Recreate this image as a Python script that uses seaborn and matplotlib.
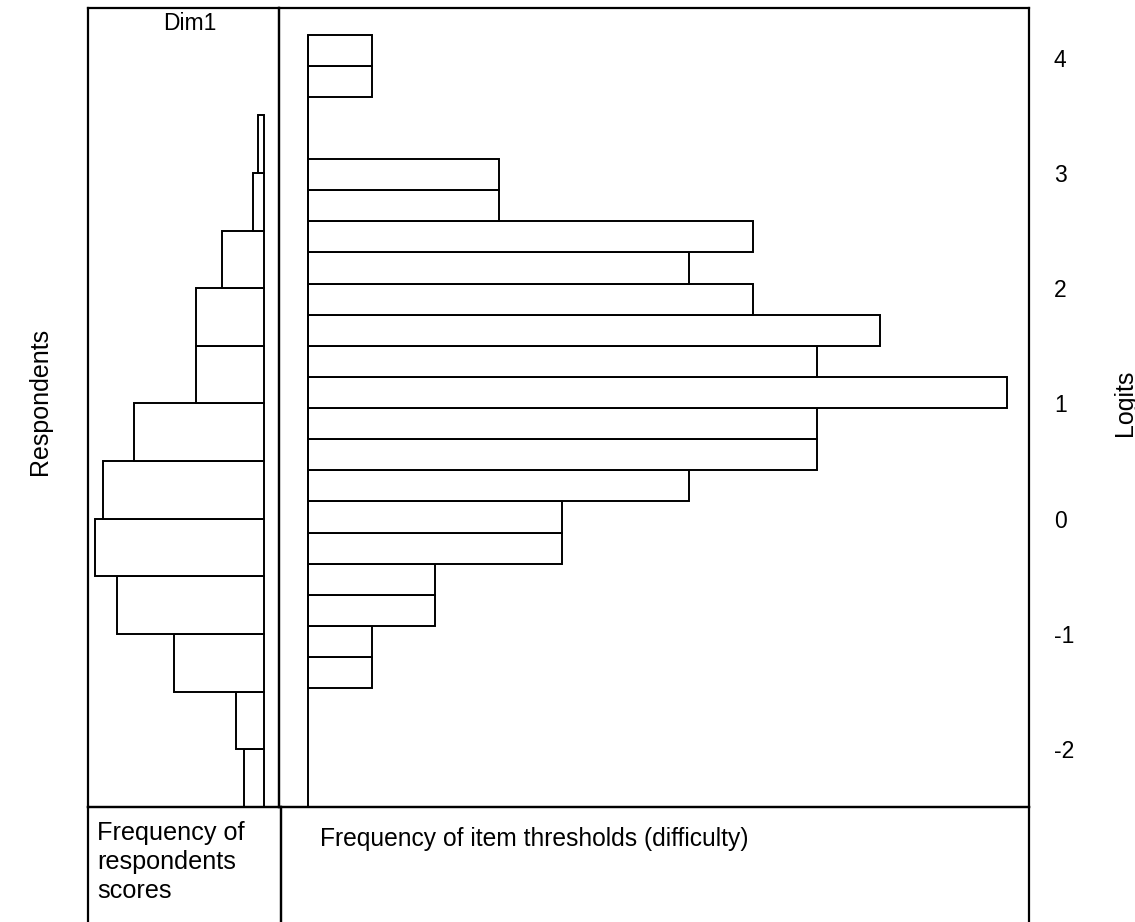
import numpy as np
import pandas as pd
import matplotlib
matplotlib.use("Agg")
import matplotlib.pyplot as plt
import seaborn as sns

sns.set_style("white")
plt.rcParams["font.family"] = ["Liberation Sans", "DejaVu Sans"]
plt.rcParams["axes.unicode_minus"] = False
plt.rcParams["text.color"] = "black"

# Person distribution: logit bin edges and respondent counts (bottom to top)
person_edges = [-2.5, -2.0, -1.5, -1.0, -0.5, 0.0, 0.5, 1.0, 1.5, 2.0, 2.5, 3.0, 3.5]
person_counts = [7, 10, 32, 52, 60, 57, 46, 24, 24, 15, 4, 2]

# Item threshold distribution: logit bin edges and threshold counts (bottom to top)
item_low, item_high, item_nbins = -1.47, 4.20, 21
item_counts = [1, 1, 2, 2, 4, 4, 6, 8, 8, 11, 8, 9, 7, 6, 7, 3, 3, 0, 0, 1, 1]

logit_ticks = [-2, -1, 0, 1, 2, 3, 4]
logit_labels = ["-2", "-1", "0", "1", "2", "3", "4"]

W, H = 1135, 922
fig = plt.figure(figsize=(W / 100, H / 100), dpi=100)


def box(x0, y0, x1, y1):
    return [x0 / W, 1 - y1 / H, (x1 - x0) / W, (y1 - y0) / H]


ylim = (-2.5, 4.43)
frame_lw = 1.6
bar_lw = 1.4
fs = 16.5
fs_cap = 18.2
fs_cap2 = 17.7
fs_lab = 18

# ---- persons panel (bars grow leftwards) ----
ax_p = fig.add_axes(box(88, 8, 279, 807))
p_edges = np.array(person_edges)
persons = pd.DataFrame({"logit": (p_edges[:-1] + p_edges[1:]) / 2,
                        "n": person_counts})
sns.histplot(data=persons, y="logit", weights="n", bins=list(p_edges), ax=ax_p,
             element="bars", fill=True, color="white", edgecolor="black",
             linewidth=bar_lw, alpha=1)
ax_p.set_xlim(62.4, -5.3)
ax_p.set_ylim(*ylim)

# ---- item thresholds panel ----
ax_i = fig.add_axes(box(279, 8, 1029, 807))
ax_i.patch.set_alpha(0)
i_edges = np.linspace(item_low, item_high, item_nbins + 1)
items = pd.DataFrame({"logit": (i_edges[:-1] + i_edges[1:]) / 2,
                      "n": item_counts})
sns.histplot(data=items, y="logit", weights="n", bins=list(i_edges), ax=ax_i,
             element="bars", fill=True, color="white", edgecolor="black",
             linewidth=bar_lw, alpha=1)
ax_i.vlines(0, ylim[0], i_edges[-1], color="black", linewidth=bar_lw)
ax_i.set_xlim(-0.456, 11.34)
ax_i.set_ylim(*ylim)

for ax in (ax_p, ax_i):
    ax.set_xlabel("")
    ax.set_ylabel("")
    ax.set_xticks([])
    for s in ax.spines.values():
        s.set_visible(True)
        s.set_color("black")
        s.set_linewidth(frame_lw)

ax_p.set_yticks([])
ax_i.yaxis.tick_right()
ax_i.set_yticks(logit_ticks)
ax_i.set_yticklabels(logit_labels)
ax_i.tick_params(axis="y", length=0, pad=18, labelsize=fs, labelcolor="black")

# ---- caption boxes under the panels ----
for x0, x1 in ((88, 281), (281, 1029)):
    axb = fig.add_axes(box(x0, 807, x1, 922))
    axb.patch.set_alpha(0)
    axb.set_xticks([])
    axb.set_yticks([])
    axb.spines["bottom"].set_visible(False)
    for k in ("left", "right", "top"):
        axb.spines[k].set_color("black")
        axb.spines[k].set_linewidth(frame_lw)

fig.text(190 / W, 1 - 24 / H, "Dim1", ha="center", va="center", fontsize=fs)
fig.text(97 / W, 1 - 821 / H, "Frequency of\nrespondents\nscores",
         ha="left", va="top", fontsize=fs_cap, linespacing=1.26)
fig.text(320 / W, 1 - 827 / H, "Frequency of item thresholds (difficulty)",
         ha="left", va="top", fontsize=fs_cap2)
fig.text(40 / W, 1 - 401 / H, "Respondents", rotation=90,
         ha="center", va="center", fontsize=fs_lab)
fig.text(1125 / W, 1 - 403 / H, "Logits", rotation=90,
         ha="center", va="center", fontsize=fs_lab)

fig.savefig("out.png", dpi=100, facecolor="white")
